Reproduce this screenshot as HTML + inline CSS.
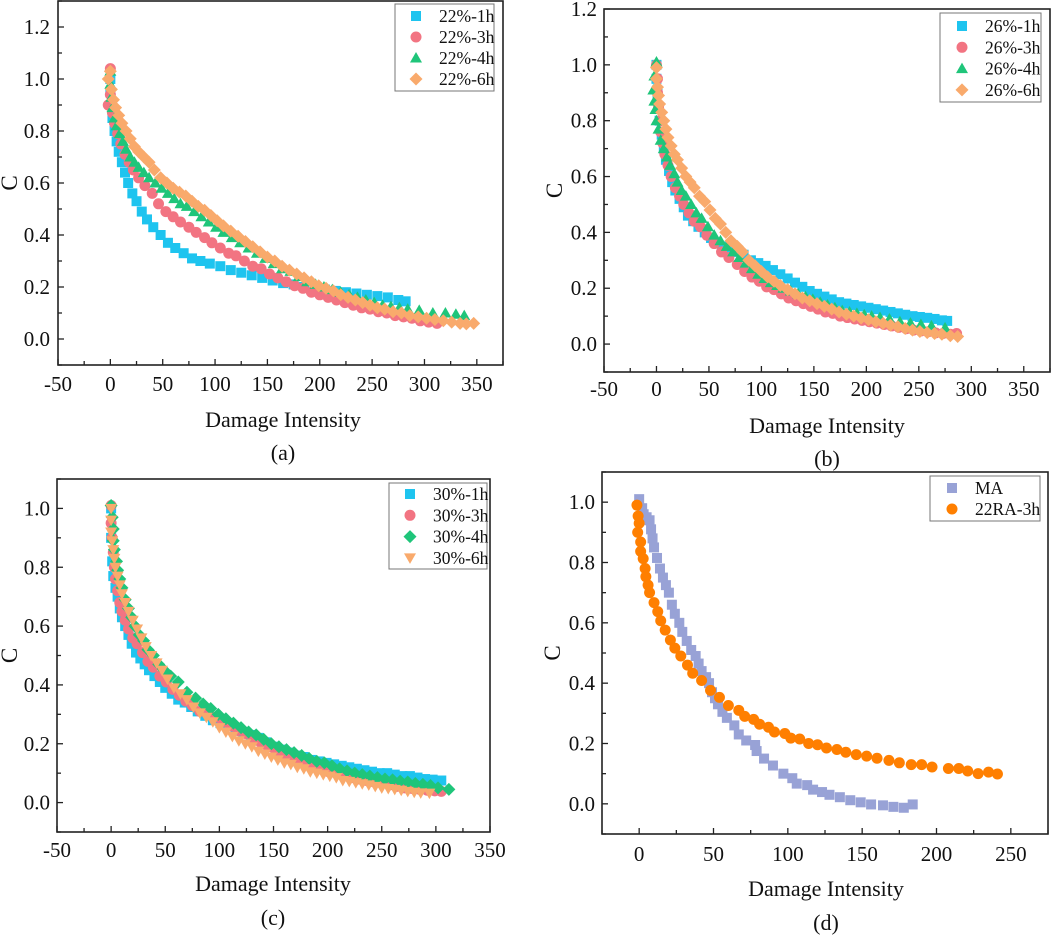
<!DOCTYPE html>
<html><head><meta charset="utf-8"><style>
html,body{margin:0;padding:0;background:#fff;}
svg, svg text{font-family:"Liberation Serif","DejaVu Serif","Times New Roman",serif !important;}
</style></head><body>
<svg id="chart" width="1059" height="935" viewBox="0 0 1059 935" xmlns="http://www.w3.org/2000/svg" font-family="Liberation Serif, DejaVu Serif, serif"></svg>
<script>
// ---------- Panel (a) data ----------
const a1x=[0,0,1,2,4,6,8,11,14,17,21,25,30,35,41,48,55,62,70,78,86,95,105,115,125,135,145,155,165,175,185,195,205,215,225,235,245,255,265,275,282];
const a1y=[1.0,0.95,0.9,0.85,0.8,0.76,0.72,0.68,0.64,0.6,0.56,0.53,0.49,0.46,0.43,0.40,0.37,0.35,0.33,0.31,0.30,0.29,0.28,0.265,0.255,0.245,0.235,0.225,0.215,0.21,0.2,0.195,0.19,0.185,0.18,0.175,0.17,0.165,0.16,0.15,0.145];
const a3x=[0,-2,0,2,4,7,10,14,18,22,27,33,40,46,53,60,67,75,82,90,97,105,113,120,128,136,144,152,160,168,176,184,192,200,208,216,224,232,240,248,256,264,272,280,288,296,304,312];
const a3y=[1.04,0.9,0.94,0.87,0.83,0.79,0.75,0.71,0.68,0.65,0.62,0.59,0.56,0.52,0.49,0.47,0.45,0.43,0.41,0.39,0.37,0.35,0.33,0.32,0.30,0.28,0.27,0.25,0.235,0.22,0.205,0.195,0.18,0.17,0.16,0.15,0.14,0.13,0.12,0.115,0.105,0.1,0.09,0.085,0.08,0.07,0.065,0.06];
const a4x=[0,0,1,2,4,6,9,12,15,19,23,27,32,37,43,49,55,61,67,73,80,87,94,101,108,116,124,132,140,148,156,164,172,180,188,196,204,212,220,228,236,244,252,260,268,276,284,295,308,320,330,338];
const a4y=[1.03,0.98,0.93,0.89,0.85,0.82,0.79,0.76,0.73,0.70,0.68,0.66,0.64,0.62,0.60,0.58,0.56,0.54,0.52,0.51,0.49,0.47,0.45,0.43,0.41,0.39,0.37,0.35,0.33,0.31,0.29,0.27,0.26,0.24,0.22,0.21,0.2,0.19,0.18,0.17,0.16,0.15,0.14,0.13,0.125,0.12,0.115,0.11,0.1,0.1,0.095,0.09];
const a6x=[-2,0,1,3,5,8,11,15,19,23,27,32,37,42,48,54,60,66,72,78,84,90,96,102,108,115,122,129,136,143,150,157,164,171,178,185,192,199,206,213,220,227,234,241,248,255,262,270,278,286,294,302,310,318,326,334,340,347];
const a6y=[1.0,1.03,0.96,0.92,0.89,0.86,0.83,0.80,0.77,0.74,0.72,0.70,0.68,0.65,0.62,0.60,0.58,0.565,0.55,0.53,0.51,0.495,0.475,0.455,0.435,0.415,0.395,0.375,0.355,0.335,0.315,0.30,0.28,0.265,0.25,0.235,0.22,0.205,0.195,0.185,0.17,0.16,0.15,0.14,0.13,0.12,0.115,0.105,0.1,0.09,0.085,0.08,0.075,0.07,0.065,0.06,0.058,0.06];
// ---------- Panel (b) data ----------
const b1x=[0,0,1,2,3,5,7,9,12,15,18,22,26,30,35,40,46,52,58,64,70,76,83,90,97,104,111,118,125,132,139,146,153,160,167,174,181,188,195,202,209,216,223,230,237,244,251,258,265,272,277];
const b1y=[1.0,0.95,0.9,0.85,0.8,0.75,0.7,0.66,0.62,0.58,0.55,0.52,0.49,0.46,0.44,0.42,0.40,0.38,0.36,0.35,0.34,0.33,0.32,0.30,0.29,0.28,0.265,0.25,0.235,0.22,0.205,0.19,0.18,0.17,0.16,0.15,0.145,0.14,0.135,0.13,0.125,0.12,0.115,0.11,0.105,0.1,0.097,0.094,0.09,0.085,0.083];
const b3x=[0,1,1,2,3,4,6,8,11,14,18,22,26,31,36,42,48,55,62,69,77,84,91,98,105,112,119,126,133,140,147,154,161,168,175,182,189,196,203,210,217,224,231,238,245,252,259,266,273,280,286];
const b3y=[1.0,0.95,0.9,0.85,0.8,0.76,0.72,0.68,0.64,0.6,0.56,0.53,0.5,0.47,0.44,0.42,0.39,0.36,0.33,0.31,0.285,0.26,0.24,0.225,0.205,0.195,0.18,0.165,0.155,0.145,0.135,0.125,0.115,0.11,0.1,0.095,0.09,0.085,0.08,0.075,0.07,0.065,0.06,0.055,0.05,0.047,0.044,0.04,0.038,0.035,0.038];
const b4x=[0,-2,-3,-2,-1,0,2,4,7,10,13,17,20,24,28,33,38,43,49,55,61,67,73,79,85,91,97,103,109,115,121,128,135,142,149,156,163,170,177,184,191,198,205,213,222,232,242,252,262,275];
const b4y=[1.01,0.96,0.91,0.87,0.84,0.8,0.77,0.73,0.7,0.67,0.64,0.61,0.58,0.55,0.53,0.5,0.47,0.45,0.42,0.39,0.37,0.35,0.33,0.31,0.29,0.27,0.25,0.235,0.22,0.21,0.2,0.19,0.18,0.17,0.16,0.15,0.14,0.13,0.12,0.115,0.11,0.105,0.1,0.095,0.09,0.08,0.075,0.07,0.065,0.058];
const b6x=[0,0,1,2,3,5,7,9,11,14,17,20,24,28,32,36,41,46,51,56,61,66,71,77,82,88,94,100,106,112,118,125,132,139,146,153,160,167,174,181,188,195,202,209,216,223,230,237,244,251,258,265,272,280,287];
const b6y=[0.99,0.95,0.92,0.89,0.86,0.83,0.8,0.77,0.74,0.71,0.68,0.66,0.63,0.6,0.58,0.56,0.53,0.51,0.48,0.45,0.43,0.4,0.37,0.35,0.33,0.3,0.28,0.26,0.24,0.225,0.21,0.195,0.18,0.165,0.155,0.145,0.135,0.125,0.115,0.107,0.1,0.093,0.087,0.08,0.074,0.068,0.062,0.056,0.05,0.045,0.041,0.038,0.035,0.03,0.027];
// ---------- Panel (c) data ----------
const c1x=[0,0,1,2,4,6,8,10,13,16,19,23,27,31,35,40,45,50,56,62,68,74,80,87,94,101,108,115,122,129,136,143,150,157,164,171,178,185,192,199,206,213,220,227,234,241,248,255,262,269,276,283,290,297,305];
const c1y=[1.0,0.9,0.82,0.77,0.73,0.70,0.66,0.63,0.6,0.57,0.54,0.51,0.49,0.47,0.45,0.43,0.41,0.39,0.37,0.35,0.34,0.325,0.31,0.295,0.28,0.27,0.26,0.25,0.24,0.23,0.22,0.205,0.19,0.18,0.17,0.16,0.155,0.145,0.14,0.135,0.13,0.125,0.12,0.115,0.11,0.105,0.1,0.1,0.095,0.09,0.09,0.085,0.08,0.078,0.075];
const c3x=[0,0,1,2,3,4,6,8,10,13,16,20,24,29,34,39,45,51,57,63,69,75,82,89,96,103,110,117,124,131,138,145,152,159,166,173,180,187,194,201,208,215,222,229,236,243,250,257,264,271,278,285,292,299,305];
const c3y=[1.01,0.95,0.9,0.85,0.8,0.76,0.72,0.68,0.65,0.62,0.59,0.56,0.54,0.51,0.48,0.46,0.43,0.41,0.385,0.365,0.345,0.33,0.31,0.3,0.29,0.275,0.26,0.245,0.235,0.22,0.205,0.19,0.175,0.165,0.155,0.145,0.135,0.125,0.115,0.105,0.1,0.095,0.085,0.08,0.075,0.07,0.065,0.06,0.055,0.05,0.048,0.045,0.042,0.04,0.038];
const c4x=[0,1,2,2,3,5,6,8,10,13,16,19,22,26,30,34,39,44,49,55,62,70,78,85,92,99,106,113,120,127,134,141,148,155,162,169,176,183,190,197,204,211,218,225,232,239,246,253,260,267,274,281,288,295,302,312];
const c4y=[1.01,0.97,0.93,0.89,0.86,0.82,0.79,0.76,0.73,0.69,0.66,0.63,0.6,0.57,0.55,0.52,0.5,0.47,0.45,0.43,0.41,0.375,0.355,0.335,0.32,0.3,0.285,0.27,0.255,0.24,0.23,0.215,0.2,0.19,0.18,0.17,0.16,0.15,0.14,0.135,0.125,0.115,0.108,0.1,0.095,0.09,0.085,0.08,0.077,0.073,0.07,0.065,0.062,0.058,0.05,0.045];
const c6x=[0,0,0,1,2,3,4,6,8,10,13,16,20,24,28,32,37,42,47,52,58,64,70,76,82,88,94,100,106,112,118,124,130,136,142,148,154,160,166,172,178,184,190,196,202,208,214,220,226,232,238,244,250,256,262,268,274,280,286,294];
const c6y=[1.0,0.96,0.92,0.89,0.86,0.83,0.8,0.77,0.74,0.71,0.68,0.65,0.62,0.59,0.56,0.53,0.5,0.475,0.45,0.42,0.39,0.37,0.35,0.325,0.305,0.29,0.275,0.255,0.24,0.225,0.21,0.2,0.19,0.175,0.165,0.155,0.145,0.135,0.13,0.12,0.115,0.105,0.1,0.095,0.09,0.085,0.075,0.072,0.068,0.064,0.06,0.055,0.05,0.048,0.045,0.042,0.038,0.035,0.033,0.032];
// ---------- Panel (d) data ----------
const dMAx=[0,2,3,5,7,8,9,10,12,14,16,18,20,22,24,27,29,32,35,38,40,42,45,47,49,51,53,56,59,64,67,72,78,79,84,90,97,103,106,113,117,123,128,135,142,149,156,164,171,178,184];
const dMAy=[1.01,0.98,0.96,0.95,0.94,0.91,0.88,0.85,0.815,0.78,0.75,0.725,0.70,0.66,0.63,0.60,0.57,0.54,0.51,0.49,0.465,0.44,0.42,0.40,0.37,0.35,0.33,0.305,0.285,0.26,0.23,0.21,0.195,0.175,0.15,0.127,0.10,0.085,0.067,0.062,0.047,0.039,0.03,0.022,0.012,0.005,-0.002,-0.005,-0.01,-0.013,-0.002];
const dRAx=[-1.5,-0.7,0,-1,1,1,2.7,4,4.5,6,7,10,12.5,14.5,17.5,21,24,28,32.5,36,42,48,54,60,67,71,77,81,87,91,98,102,108,114,120,126,133,139,146,153,160,168,175,183,190,197,208,215,221,228,235,241];
const dRAy=[0.99,0.954,0.93,0.9,0.868,0.837,0.813,0.78,0.753,0.725,0.70,0.667,0.637,0.607,0.576,0.543,0.516,0.49,0.46,0.433,0.409,0.376,0.353,0.326,0.31,0.29,0.28,0.264,0.254,0.238,0.233,0.218,0.215,0.2,0.196,0.185,0.18,0.171,0.163,0.158,0.151,0.144,0.136,0.13,0.13,0.122,0.117,0.117,0.109,0.1,0.105,0.099];

const legendA=["22%-1h","22%-3h","22%-4h","22%-6h"];
const legendB=["26%-1h","26%-3h","26%-4h","26%-6h"];
const legendC=["30%-1h","30%-3h","30%-4h","30%-6h"];
const legendD=["MA","22RA-3h"];
const xTicksA=[-50,0,50,100,150,200,250,300,350];
const xTicksD=[0,50,100,150,200,250];
const yTicksA=[0.0,0.2,0.4,0.6,0.8,1.0,1.2];
const yTicksC=[0.0,0.2,0.4,0.6,0.8,1.0];

const NS="http://www.w3.org/2000/svg";
const FONT="Liberation Serif, DejaVu Serif, serif";
const svg=document.getElementById('chart');
function el(tag,attrs,parent){const e=document.createElementNS(NS,tag);for(const k in attrs)e.setAttribute(k,attrs[k]);if(tag==='text'){e.setAttribute('font-family',FONT);}(parent||svg).appendChild(e);return e;}
const COL={cyan:"#1ec4ef",pink:"#f27482",green:"#1fc57a",orange:"#f9aa6c",ma:"#98a2d6",ra:"#ff7f00"};

function marker(g,shape,cx,cy,color){
  let m;
  if(shape==='square'){m=el('rect',{x:cx-5,y:cy-5,width:10,height:10,fill:color},g);}
  else if(shape==='circle'){m=el('circle',{cx:cx,cy:cy,r:5.5,fill:color},g);}
  else if(shape==='tri'){m=el('polygon',{points:`${cx},${cy-6} ${cx+6},${cy+4.5} ${cx-6},${cy+4.5}`,fill:color},g);}
  else if(shape==='tridown'){m=el('polygon',{points:`${cx},${cy+6} ${cx+6},${cy-4.5} ${cx-6},${cy-4.5}`,fill:color},g);}
  else {m=el('polygon',{points:`${cx},${cy-6.5} ${cx+6.5},${cy} ${cx},${cy+6.5} ${cx-6.5},${cy}`,fill:color},g);}
  return m;
}

function panel(p){
  const g=el('g',{});
  
  
  const sx=v=>p.l+(v-p.x0)/(p.x1-p.x0)*(p.r-p.l);
  const sy=v=>p.b-(v-p.y0)/(p.y1-p.y0)*(p.b-p.t);
  p.series.forEach((s,si)=>{
    const sg=el('g',{},g);
    
    
    s.x.forEach((xv,i)=>{
      const m=marker(sg,s.shape,sx(xv),sy(s.y[i]),s.color);
      
      
    });
  });
  const fr=el('rect',{x:p.l,y:p.t,width:p.r-p.l,height:p.b-p.t,fill:'none',stroke:'#222','stroke-width':1.6},g);
  
  
  const xg=el('g',{},g);
  
  
  for(let v=p.x0;v<=p.x1+0.01;v+=p.xminor){
    const major=p.xticks.includes(Math.round(v));
    el('line',{x1:sx(v),x2:sx(v),y1:p.b,y2:p.b-(major?6:4),stroke:'#222','stroke-width':1.3},xg);
  }
  p.xticks.forEach(v=>{
    const t=el('text',{x:sx(v),y:p.xly,'text-anchor':'middle','font-size':21,fill:'#111'},xg);
    t.textContent=String(v);
    
    
  });
  const yg=el('g',{},g);
  
  
  for(let v=Math.ceil(p.y0*10)/10;v<=p.y1+0.001;v+=0.1){
    const major=Math.abs(Math.round(v*10)%2)===0;
    el('line',{x1:p.l,x2:p.l+(major?6:4),y1:sy(v),y2:sy(v),stroke:'#222','stroke-width':1.3},yg);
  }
  p.yticks.forEach(v=>{
    const t=el('text',{x:p.ylx,y:sy(v)+7,'text-anchor':'end','font-size':21,fill:'#111'},yg);
    t.textContent=v.toFixed(1);
    
    
  });
  const yt=el('text',{x:p.cx,y:(p.t+p.b)/2,'text-anchor':'middle','font-size':23,fill:'#111',transform:`rotate(-90 ${p.cx} ${(p.t+p.b)/2})`},g);
  yt.textContent='C';
  
  
  const xt=el('text',{x:p.tx,y:p.ty,'text-anchor':'middle','font-size':22,fill:'#111'},g);
  xt.textContent='Damage Intensity';
  
  
  const cap=el('text',{x:p.tx,y:p.capy,'text-anchor':'middle','font-size':22,fill:'#111'},g);
  cap.textContent='('+p.id+')';
  
  
  const lg=el('g',{},g);
  
  
  const L=p.leg;
  el('rect',{x:L.x,y:L.y,width:L.w,height:L.h,fill:'#fff',stroke:'#777','stroke-width':1},lg);
  p.series.forEach((s,i)=>{
    const cy=L.y0+i*L.dy;
    const e=el('g',{},lg);
    
    
    marker(e,s.shape,L.sx,cy,s.color);
    const t=el('text',{x:L.tx,y:cy+6,'font-size':17.5,fill:'#111'},e);
    t.textContent=s.name;
  });
}

panel({id:'a',l:58,t:1,r:503,b:365,x0:-50,x1:375,y0:-0.1,y1:1.3,xminor:25,xticks:xTicksA,yticks:yTicksA,
  xly:391,ylx:50,cx:17,tx:283,ty:427,capy:460,
  leg:{x:395,y:4,w:99,h:87,y0:16,dy:21,sx:416,tx:439},
  series:[{name:legendA[0],x:a1x,y:a1y,shape:'square',color:COL.cyan},{name:legendA[1],x:a3x,y:a3y,shape:'circle',color:COL.pink},
          {name:legendA[2],x:a4x,y:a4y,shape:'tri',color:COL.green},{name:legendA[3],x:a6x,y:a6y,shape:'diamond',color:COL.orange}]});
panel({id:'b',l:604,t:9,r:1050,b:372,x0:-50,x1:375,y0:-0.1,y1:1.2,xminor:25,xticks:xTicksA,yticks:yTicksA,
  xly:396,ylx:597,cx:562,tx:827,ty:433,capy:466,
  leg:{x:940,y:13,w:101,h:89,y0:26,dy:21.3,sx:962,tx:985},
  series:[{name:legendB[0],x:b1x,y:b1y,shape:'square',color:COL.cyan},{name:legendB[1],x:b3x,y:b3y,shape:'circle',color:COL.pink},
          {name:legendB[2],x:b4x,y:b4y,shape:'tri',color:COL.green},{name:legendB[3],x:b6x,y:b6y,shape:'diamond',color:COL.orange}]});
panel({id:'c',l:57,t:479,r:490,b:832,x0:-50,x1:350,y0:-0.1,y1:1.1,xminor:25,xticks:xTicksA,yticks:yTicksC,
  xly:857,ylx:50,cx:17,tx:273,ty:891,capy:925,
  leg:{x:389,y:483,w:98,h:86,y0:494,dy:21.3,sx:410,tx:433},
  series:[{name:legendC[0],x:c1x,y:c1y,shape:'square',color:COL.cyan},{name:legendC[1],x:c3x,y:c3y,shape:'circle',color:COL.pink},
          {name:legendC[2],x:c4x,y:c4y,shape:'diamond',color:COL.green},{name:legendC[3],x:c6x,y:c6y,shape:'tridown',color:COL.orange}]});
panel({id:'d',l:602,t:472,r:1048,b:834,x0:-25,x1:275,y0:-0.1,y1:1.1,xminor:25,xticks:xTicksD,yticks:yTicksC,
  xly:861,ylx:595,cx:560,tx:826,ty:896,capy:930,
  leg:{x:930,y:476,w:110,h:45,y0:488,dy:21,sx:952,tx:975},
  series:[{name:legendD[0],x:dMAx,y:dMAy,shape:'square',color:COL.ma},{name:legendD[1],x:dRAx,y:dRAy,shape:'circle',color:COL.ra}]});
</script>
</body></html>
